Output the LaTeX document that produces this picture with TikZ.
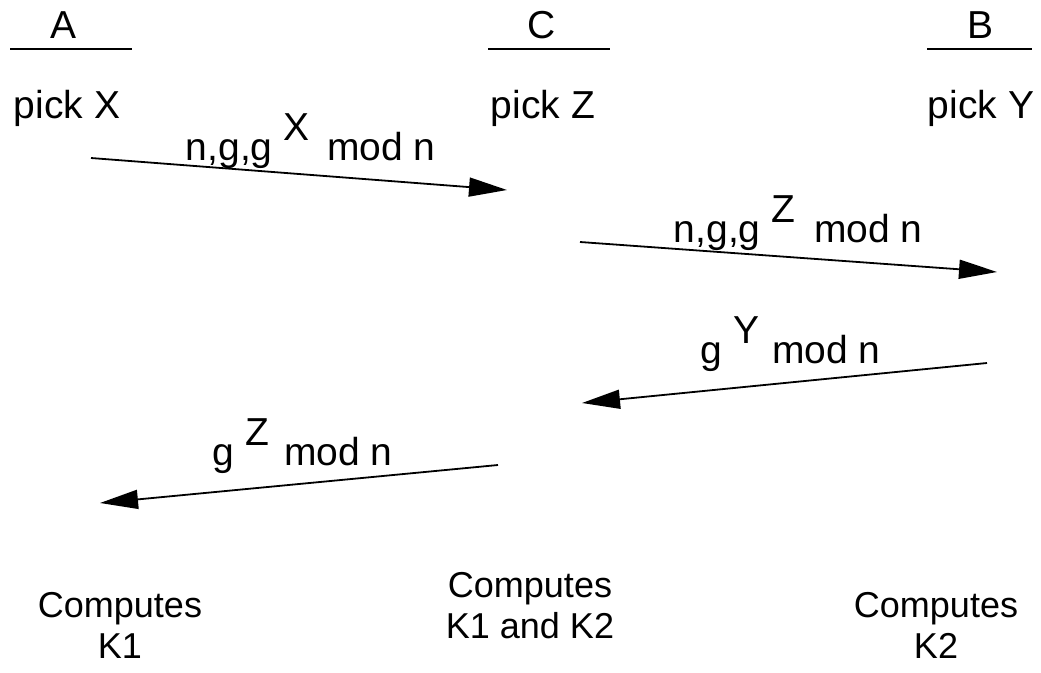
\documentclass[tikz,border=0pt]{standalone}
\usepackage{fontspec}
\setmainfont{Liberation Sans}
\usetikzlibrary{arrows.meta}
\newcommand{\up}[1]{\raisebox{20pt}{#1}}
\begin{document}
\begin{tikzpicture}[x=1pt, y=-1pt, >={Triangle[length=38pt,width=19pt]}, line width=1.8pt,
  txt/.style={inner sep=0pt, font=\fontsize{39}{47}\selectfont},
  comp/.style={inner sep=0pt, align=center, font=\fontsize{36}{41}\selectfont}]
 \useasboundingbox (0,0) rectangle (1041,672);
 % the three parties
 \node[txt, anchor=base] (A) at (64,38) {A};
 \node[txt, anchor=base] (C) at (542,38) {C};
 \node[txt, anchor=base] (B) at (980,38) {B};
 \draw (10,49)--(132,49);
 \draw (488,49)--(610,49);
 \draw (927,49)--(1032,49);
 \node[txt, anchor=base west] (pickX) at (13,118) {pick X};
 \node[txt, anchor=base west] (pickZ) at (490,118) {pick Z};
 \node[txt, anchor=base west] (pickY) at (927,118) {pick Y};
 % messages
 \coordinate (m1s) at (91,158);  \coordinate (m1e) at (507,190);
 \coordinate (m2s) at (580,242); \coordinate (m2e) at (997,272);
 \coordinate (m3s) at (987,363); \coordinate (m3e) at (582,403);
 \coordinate (m4s) at (498,465); \coordinate (m4e) at (100,503);
 \draw[->] (m1s)--(m1e);
 \draw[->] (m2s)--(m2e);
 \draw[->] (m3s)--(m3e);
 \draw[->] (m4s)--(m4e);
 \node[txt, anchor=base west] (l1) at (185,160) {n,g,g \up{X}\hspace{7pt} mod n};
 \node[txt, anchor=base west] (l2) at (673,242) {n,g,g \up{Z}\hspace{8pt} mod n};
 \node[txt, anchor=base west] (l3) at (700,363) {g \up{Y}\hspace{2pt} mod n};
 \node[txt, anchor=base west] (l4) at (212,465) {g \up{Z}\hspace{4pt} mod n};
 % results
 \node[comp, anchor=base] (kA) at (120,658) {Computes\\K1};
 \node[comp, anchor=base] (kC) at (530,638) {Computes\\K1 and K2};
 \node[comp, anchor=base] (kB) at (936,658) {Computes\\K2};
\end{tikzpicture}
\end{document}
